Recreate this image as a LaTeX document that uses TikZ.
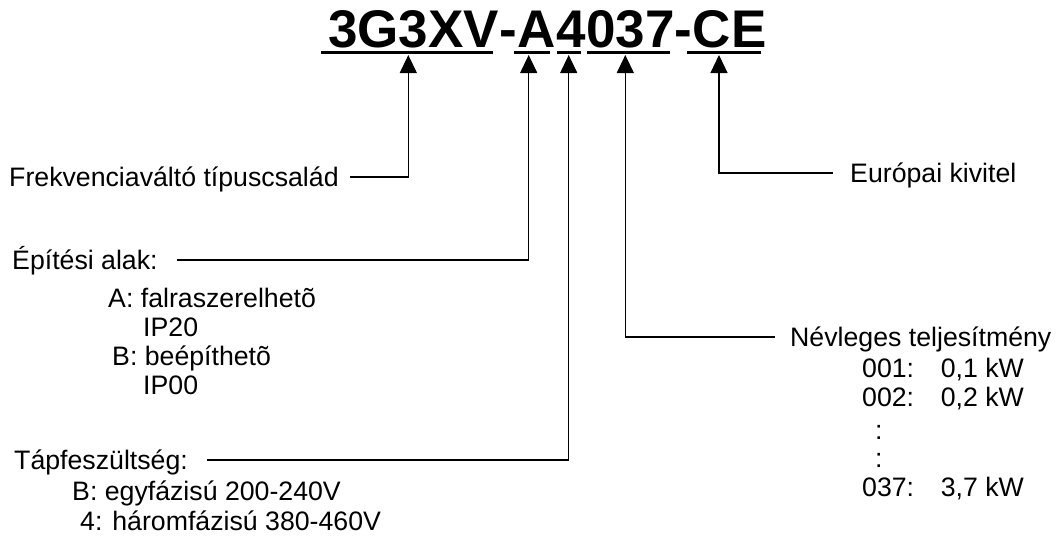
\documentclass[tikz,border=0pt]{standalone}
\usepackage{fontspec}
\setmainfont{Liberation Sans}
\usetikzlibrary{arrows.meta,positioning}

\begin{document}
\begin{tikzpicture}[x=1pt,y=-1pt,
  lbl/.style={font=\fontsize{26.7pt}{28pt}\selectfont,inner sep=0pt,text height=19pt,text depth=0pt,anchor=west},
  part/.style={font=\fontsize{53pt}{53pt}\selectfont\bfseries,inner sep=0pt,anchor=base west},
  uline/.style={line width=2.7pt},
  conn/.style={-{Triangle[length=18pt,width=17pt]},line width=1.2pt}]
\useasboundingbox (0,0) rectangle (1061,542);
% type code
\node[part] (partFam) at (328,47) {3G3XV};
\node[part] (partDashA) at (partFam.base east) {-};
\node[part] (partForm) at (partDashA.base east) {A};
\node[part] (partVolt) at (partForm.base east) {4};
\node[part] (partPow) at (partVolt.base east) {037};
\node[part] (partDashB) at (partPow.base east) {-};
\node[part] (partEU) at (partDashB.base east) {CE};
\draw[uline] (320.7,52.7) -- (492.7,52.7);
\draw[uline] (514,52.7) -- (550,52.7);
\draw[uline] (556.7,52.7) -- (580.7,52.7);
\draw[uline] (586.7,52.7) -- (670,52.7);
\draw[uline] (687.3,52.7) -- (760.7,52.7);
\coordinate (tipFam) at (408.3,55);
\coordinate (tipForm) at (528.7,55);
\coordinate (tipVolt) at (568.7,55);
\coordinate (tipPow) at (625.3,55);
\coordinate (tipEU) at (719,55);
% labels
\node[lbl] (lblFam) at (9,177) {Frekvenciaváltó típuscsalád};
\node[lbl] (lblEU) at (850,173) {Európai kivitel};
\node[lbl] (lblForm) at (12,260) {Építési alak:};
\node[lbl] (lblFormA) at (108,298) {A: falraszerelhetõ};
\node[lbl] (lblFormAip) at (143,327) {IP20};
\node[lbl] (lblFormB) at (112,356) {B: beépíthetõ};
\node[lbl] (lblFormBip) at (143,385) {IP00};
\node[lbl] (lblVolt) at (14,460) {Tápfeszültség:};
\node[lbl] (lblVoltB) at (72,491) {B: egyfázisú 200-240V};
\node[lbl] (lblVoltF) at (80,521) {4: háromfázisú 380-460V};
\node[lbl] (lblPow) at (790,337) {Névleges teljesítmény};
\node[lbl] (lblPowA) at (862,368) {001:\quad 0,1 kW};
\node[lbl] (lblPowB) at (862,397) {002:\quad 0,2 kW};
\node[lbl] (lblPowDotA) at (875,430) {:};
\node[lbl] (lblPowDotB) at (875,458) {:};
\node[lbl] (lblPowC) at (862,487) {037:\quad 3,7 kW};
% connectors
\draw[conn] ([xshift=11]lblFam.east) -| (tipFam);
\draw[conn] ([xshift=19]lblForm.east) -| (tipForm);
\draw[conn] ([xshift=19]lblVolt.east) -| (tipVolt);
\draw[conn] ([xshift=-15]lblPow.west) -| (tipPow);
\draw[conn] ([xshift=-17]lblEU.west) -| (tipEU);
\end{tikzpicture}
\end{document}
